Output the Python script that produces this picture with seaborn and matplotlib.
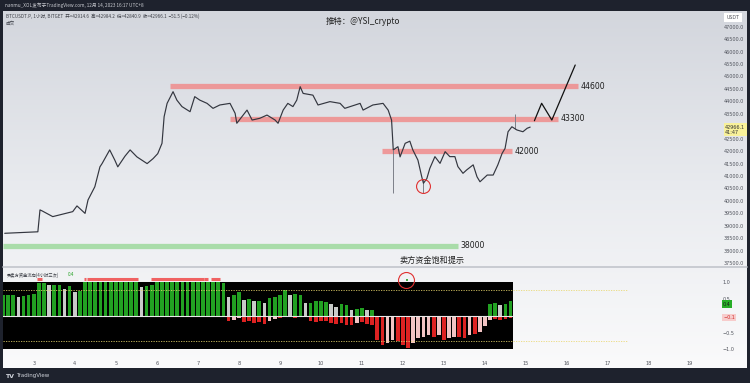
import numpy as np
import pandas as pd
import matplotlib
matplotlib.use("Agg")
import matplotlib.pyplot as plt
import seaborn as sns
from matplotlib.colors import LinearSegmentedColormap

# ---------------- data ----------------
price_day = [2.29, 3.07, 3.12, 3.17, 3.42, 3.89, 3.99, 4.18, 4.25, 4.41, 4.53, 4.58, 4.76, 4.88,
             4.95, 5.12, 5.24, 5.40, 5.64, 5.78, 5.89, 5.99, 6.04, 6.11, 6.25, 6.34, 6.46, 6.65,
             6.76, 6.88, 7.05, 7.19, 7.35, 7.59, 7.71, 7.75, 7.99, 8.11, 8.29, 8.46, 8.65, 8.72,
             8.84, 8.95, 9.07, 9.16, 9.24, 9.31, 9.54, 9.66, 9.94, 10.18, 10.29, 10.65, 10.72,
             10.95, 11.19, 11.31, 11.39, 11.43, 11.54, 11.59, 11.71, 11.82, 11.89, 12.01, 12.10,
             12.14, 12.22, 12.29, 12.41, 12.53, 12.65, 12.76, 12.88, 12.95, 13.07, 13.16, 13.31,
             13.40, 13.47, 13.64, 13.78, 13.89, 13.99, 14.06, 14.13, 14.22, 14.34, 14.48, 14.58, 14.65]
price_close = [38700, 38760, 39640, 39600, 39370, 39570, 39800, 39500, 40040, 40570, 41370, 41500,
               42050, 41640, 41370, 41800, 42050, 41770, 41500, 41700, 41900, 42315, 43385, 43920,
               44390, 44050, 43790, 43585, 44190, 44050, 43920, 43720, 43855, 43920, 43520, 43120,
               43650, 43250, 43320, 43450, 43250, 43120, 43650, 43920, 43790, 44050, 44590, 44320,
               44250, 43855, 43990, 43920, 43720, 43920, 43650, 43855, 43920, 43650, 43250, 42050,
               42180, 41770, 42315, 42400, 42050, 41640, 40970, 40710, 40900, 41310, 41780, 41510,
               41980, 41780, 41780, 41380, 41110, 41250, 41450, 40970, 40770, 41040, 41040, 41450,
               41910, 42110, 42780, 42980, 42850, 42780, 42920, 42966]
wick_day = [11.43, 12.14, 14.30]
wick_low = [40310, 40310, 42900]
wick_high = [42050, 40900, 43500]

level_value = [44600, 43300, 42000, 38200]
level_label = ["44600", "43300", "42000", "38000"]
level_start = [6.18, 7.59, 11.17, 2.25]
level_end = [15.78, 15.31, 14.22, 12.95]

proj_day = [14.75, 14.92, 15.16, 15.71]
proj_price = [43223, 43923, 43250, 45461]

price_ticks = [47000, 46500, 46000, 45500, 45000, 44500, 44000, 43500,
               42500, 42000, 41500, 41000, 40500, 40000, 39500, 39000, 38500, 38000, 37500]
osc_ticks = [1.0, 0.5, -0.5, -1.0]
day_ticks = list(range(3, 20))

osc_start = 2.25
osc_step = 0.125
buy_flow = [0.62, 0.63, 0.62, 0.57, 0.60, 0.62,
            0.64, 0.97, 0.97, 0.92, 0.90, 0.92, 0.80, 0.87,
            0.70, 0.74, 1.0, 1.0, 1.0, 1.0, 1.0, 1.0,
            1.0, 1.0, 1.0, 1.0, 1.0, 0.84, 0.87, 0.92,
            1.0, 1.0, 1.0, 1.0, 1.0, 1.0, 1.0, 1.0,
            1.0, 1.0, 1.0, 1.0, 1.0, 0.97, 0.57, 0.62,
            0.70, 0.48, 0.50, 0.43, 0.45, 0.38, 0.53, 0.57,
            0.62, 0.77, 0.62, 0.64, 0.62, 0.38, 0.38, 0.45,
            0.43, 0.41, 0.35, 0.25, 0.35, 0.33, 0.18, 0.21,
            0.23, 0.18, 0.18, 0, 0, 0, 0, 0,
            0, 0, 0, 0, 0, 0, 0, 0,
            0, 0, 0, 0, 0, 0, 0, 0,
            0, 0.35, 0.38, 0.33, 0.35, 0.43]
sell_flow = [0, 0, 0, 0, 0, 0,
             0, 0, 0, 0, 0, 0, 0, 0,
             0, 0, 0, 0, 0, 0, 0, 0,
             0, 0, 0, 0, 0, 0, 0, 0,
             0, 0, 0, 0, 0, 0, 0, 0,
             0, 0, 0, 0, 0, 0, -0.17, -0.12,
             -0.07, -0.19, -0.17, -0.22, -0.19, -0.25, -0.15, -0.09,
             -0.07, -0.05, -0.05, -0.07, -0.02, -0.05, -0.17, -0.19,
             -0.17, -0.15, -0.22, -0.25, -0.22, -0.27, -0.27, -0.22,
             -0.19, -0.25, -0.29, -0.71, -0.86, -0.81, -0.71, -0.74,
             -0.86, -0.96, -0.81, -0.66, -0.62, -0.57, -0.62, -0.57,
             -0.71, -0.66, -0.62, -0.62, -0.66, -0.57, -0.55, -0.49,
             -0.32, -0.12, -0.09, -0.12, -0.09, -0.07]
signal_start = [3.09, 4.22, 4.29, 5.87, 7.16, 7.31]
signal_end = [3.21, 4.27, 5.54, 7.14, 7.24, 7.54]
osc_levels = [0.76, -0.76]

# ---------------- style ----------------
sns.set_theme(style="white")
plt.rcParams['font.family'] = ['Noto Sans CJK SC', 'DejaVu Sans']
plt.rcParams['axes.unicode_minus'] = True

W, H = 750, 383
fig = plt.figure(figsize=(W / 100, H / 100), dpi=100, facecolor='#1e222d')


def rect(x0, y0, x1, y1):
    return [x0 / W, 1 - y1 / H, (x1 - x0) / W, (y1 - y0) / H]


def fx(x):
    return x / W


def fy(y):
    return 1 - y / H


# background gradient panel
bg = fig.add_axes(rect(3, 11, 747, 368), zorder=-10)
grad = np.linspace(0, 1, 256).reshape(-1, 1)
cmap = LinearSegmentedColormap.from_list('g', ['#d3d6dd', '#e9ebef', '#fafafb'])
bg.imshow(grad, aspect='auto', cmap=cmap, extent=[0, 1, 0, 1], origin='upper')
bg.set_axis_off()

xlim = (2.25, 18.41)

# ---------------- price pane ----------------
ax1 = fig.add_axes(rect(3, 11, 690, 265))
ax1.patch.set_alpha(0)
ax1.set_xlim(*xlim)
ax1.set_ylim(37426, 47631)

for v, lab, s, e in zip(level_value, level_label, level_start, level_end):
    col = '#a9dca9' if v < 39000 else '#f08c8c'
    ax1.hlines(v, s, e, color=col, lw=3.8, alpha=0.85 if v >= 39000 else 1.0, zorder=1)
    ax1.text(e + 0.06, v, lab, fontsize=5.6, va='center', ha='left', color='#1e1e1e',
             family=['DejaVu Sans'], zorder=5)

ax1.vlines(wick_day, wick_low, wick_high, color='#7c7f88', lw=0.7, zorder=2)
df_price = pd.DataFrame({'day': price_day, 'price': price_close})
sns.lineplot(data=df_price, x='day', y='price', ax=ax1, color='#33363f', lw=0.85,
             zorder=3, estimator=None, sort=False)
df_proj = pd.DataFrame({'day': proj_day, 'price': proj_price})
sns.lineplot(data=df_proj, x='day', y='price', ax=ax1, color='#111111', lw=0.9,
             zorder=3, estimator=None, sort=False)
ax1.plot([12.13], [40590], marker='o', ms=10, mfc='none', mec='#e03030', mew=0.8, zorder=4)

ax1.set_xticks([])
ax1.yaxis.tick_right()
ax1.set_yticks(price_ticks)
ax1.set_yticklabels([f"{t:.1f}" for t in price_ticks], family=['DejaVu Sans'])
ax1.tick_params(axis='y', length=0, pad=24.5, labelsize=3.5, labelcolor='#50535c')
ax1.set_xlabel('')
ax1.set_ylabel('')
for s in ax1.spines.values():
    s.set_visible(False)

# ---------------- oscillator pane ----------------
ax2 = fig.add_axes(rect(3, 268, 690, 353))
ax2.patch.set_alpha(0)
ax2.set_xlim(*xlim)
ax2.set_ylim(-1.11, 1.42)

n = len(buy_flow)
osc_day = osc_start + osc_step * np.arange(n)
x_lo = osc_day[0] - osc_step / 2
x_hi = osc_day[-1] + osc_step / 2
ax2.fill_between([x_lo, x_hi], -1.0, 1.0, color='black', lw=0, zorder=1)

buy = np.array(buy_flow)
sell = np.array(sell_flow)
buy_prev = np.r_[buy[0], buy[:-1]]
sell_prev = np.r_[sell[0], sell[:-1]]
buy_col = np.where(buy >= buy_prev - 0.03, '#22a022', '#c9cbc9')
sell_col = np.where(sell <= sell_prev + 0.03, '#dd2222', '#f2c4c4')
ax2.bar(osc_day, buy, width=osc_step * 0.72, color=buy_col, lw=0, zorder=2)
ax2.bar(osc_day, sell, width=osc_step * 0.72, color=sell_col, lw=0, zorder=2)
ax2.hlines(0, x_lo, x_hi, color='#e8e8e8', lw=0.8, zorder=3)
for lv in osc_levels:
    ax2.hlines(lv, xlim[0], 17.5, color='#e9d66b', lw=0.6, ls=(0, (1.5, 1.5)), zorder=3, alpha=0.9)
ax2.hlines([1.1] * len(signal_start), signal_start, signal_end, color='#f06262', lw=2.2, zorder=3)
ax2.vlines([12.10], [1.03], [1.1], color='#22a022', lw=1.2, zorder=4)
ax2.plot([12.08], [1.07], marker='o', ms=11.5, mfc='none', mec='#e03030', mew=0.8, zorder=4)

ax2.yaxis.tick_right()
ax2.set_yticks(osc_ticks)
ax2.set_yticklabels([f"{t:.1f}".replace('-', '\u2212') for t in osc_ticks], family=['DejaVu Sans'])
ax2.tick_params(axis='y', length=0, pad=23.5, labelsize=3.5, labelcolor='#50535c')
ax2.set_xticks(day_ticks)
ax2.set_xticklabels([str(d) for d in day_ticks], family=['DejaVu Sans'])
ax2.tick_params(axis='x', length=0, pad=6, labelsize=3.6, labelcolor='#50535c')
for s in ax2.spines.values():
    s.set_visible(False)

# pane separator
fig.add_artist(plt.Line2D([fx(3), fx(747)], [fy(266.5), fy(266.5)], color='#c2c5cc', lw=1.2))

# ---------------- texts ----------------
fig.text(fx(5), fy(5), "nanmu_XOL发布于TradingView.com, 12月 14, 2023 16:17 UTC+8",
         fontsize=3.4, color='#c8cad0', va='center', ha='left')
fig.text(fx(6), fy(16), "BTCUSDT.P, 1小时, BITGET  开=42914.6  高=42984.2  低=42840.9  收=42966.1  \u221251.5 (\u22120.12%)",
         fontsize=3.3, color='#3a3d45', va='center', ha='left')
fig.text(fx(6), fy(23), "成交", fontsize=3.3, color='#3a3d45', va='center', ha='left')
fig.text(fx(363), fy(22), "推特：@YSI_crypto", fontsize=6, color='#222222', va='center', ha='center')
fig.text(fx(432), fy(260), "卖方资金饱和提示", fontsize=5.9, color='#222222', va='center', ha='center')
fig.text(fx(7), fy(275), "买卖方资金流向(4小时三次)", fontsize=3.1, color='#3a3d45', va='center', ha='left')
fig.text(fx(68), fy(275), "0.4", fontsize=3.3, color='#22a022', va='center', ha='left')

fig.text(fx(733), fy(17.5), "USDT", fontsize=3.4, color='#50535c', va='center', ha='center',
         family=['DejaVu Sans'],
         bbox=dict(boxstyle='square,pad=0.5', fc='white', ec='none'))
fig.text(fx(725), fy(129.5), "42966.1\n41:47", fontsize=3.5, color='#333333', va='center', ha='left',
         linespacing=1.0, family=['DejaVu Sans'],
         bbox=dict(boxstyle='square,pad=0.3', fc='#f8f19a', ec='none'))
fig.text(fx(723), fy(304), "0.4", fontsize=3.5, color='#1a1a1a', va='center', ha='left',
         family=['DejaVu Sans'],
         bbox=dict(boxstyle='square,pad=0.3', fc='#27ad27', ec='none'))
fig.text(fx(723), fy(317.5), "\u22120.1", fontsize=3.5, color='#d03030', va='center', ha='left',
         family=['DejaVu Sans'],
         bbox=dict(boxstyle='square,pad=0.3', fc='#f7cccc', ec='none'))
fig.text(fx(5), fy(376), "TV", fontsize=4.5, color='#d1d4dc', va='center', ha='left',
         weight='bold', family=['DejaVu Sans'])
fig.text(fx(16), fy(376), "TradingView", fontsize=4.0, color='#d1d4dc', va='center', ha='left',
         family=['DejaVu Sans'])

fig.savefig('out.png', dpi=100, facecolor=fig.get_facecolor())
